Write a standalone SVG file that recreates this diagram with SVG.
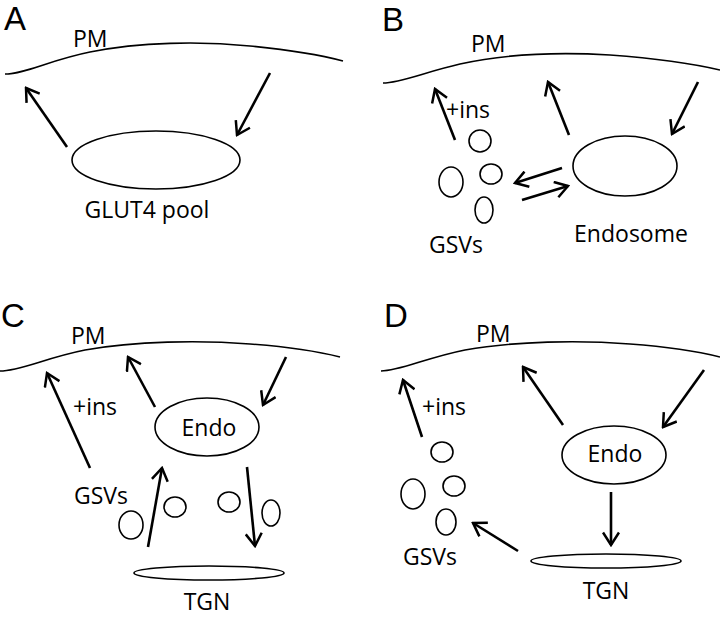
<svg xmlns="http://www.w3.org/2000/svg" width="720" height="617" viewBox="0 0 720 617">
<defs>
<marker id="ah" viewBox="0 -1 17 18" refX="15" refY="8" markerWidth="17" markerHeight="18" markerUnits="userSpaceOnUse" orient="auto">
<path d="M2.5,0 L15,8 L2.5,16" fill="none" stroke="#000" stroke-width="2.5" stroke-linejoin="miter"/>
</marker>
</defs>
<style>
.pm{fill:none;stroke:#000;stroke-width:1.6}
.org{fill:none;stroke:#000;stroke-width:1.6}
.arr{fill:none;stroke:#000;stroke-width:2.6;marker-end:url(#ah)}
text{font-family:"Open Sans","Liberation Sans",sans-serif;fill:#000}
.lbl{font-size:23px}
.pan{font-size:33px;font-family:"Liberation Sans","Open Sans",sans-serif}
</style>
<rect width="720" height="617" fill="#fff"/>

<!-- Panel A -->
<g id="panelA">
<text class="pan" x="4" y="30">A</text>
<g id="A-PM"><path class="pm" d="M5,74 C25,74 50,60 90,52 C140,42 200,41 250,46 C290,50 320,55 343,61"/><text class="lbl" x="73" y="47">PM</text></g>
<g id="A-pool"><ellipse class="org" cx="156" cy="160" rx="84" ry="29"/><text class="lbl" x="147" y="218" text-anchor="middle">GLUT4 pool</text></g>
</g>

<!-- Panel B -->
<g id="panelB">
<text class="pan" x="382" y="31">B</text>
<g id="B-PM"><path class="pm" d="M383,83 C400,83 425,72 460,64 C510,53 560,52 610,55 C650,58 690,63 720,70"/><text class="lbl" x="471" y="52">PM</text></g>
<g id="B-endo"><ellipse class="org" cx="625" cy="166" rx="52" ry="30"/><text class="lbl" x="631" y="242" text-anchor="middle">Endosome</text></g>
<g id="B-gsvs">
<ellipse class="org" cx="480" cy="141" rx="11" ry="11"/>
<ellipse class="org" cx="451" cy="182" rx="12" ry="15"/>
<ellipse class="org" cx="491" cy="174" rx="11" ry="10"/>
<ellipse class="org" cx="484" cy="210" rx="9" ry="13"/>
<text class="lbl" x="456" y="253" text-anchor="middle">GSVs</text>
</g>
<text class="lbl" x="446" y="118">+ins</text>
</g>

<!-- Panel C -->
<g id="panelC">
<text class="pan" x="1" y="327">C</text>
<g id="C-PM"><path class="pm" d="M0,371 C20,371 45,358 85,350 C135,341 200,340 250,344 C290,347 320,352 340,357"/><text class="lbl" x="71" y="344">PM</text></g>
<g id="C-endo"><ellipse class="org" cx="207" cy="427" rx="52" ry="29"/><text class="lbl" x="209" y="436" text-anchor="middle">Endo</text></g>
<g id="C-gsvs">
<ellipse class="org" cx="131" cy="525" rx="12" ry="14"/>
<ellipse class="org" cx="175" cy="507" rx="11" ry="10"/>
<ellipse class="org" cx="229" cy="502" rx="11" ry="10"/>
<ellipse class="org" cx="271" cy="513" rx="9" ry="13"/>
<text class="lbl" x="101" y="504" text-anchor="middle">GSVs</text>
</g>
<g id="C-tgn"><ellipse class="org" cx="209" cy="573" rx="75" ry="7"/><text class="lbl" x="207" y="610" text-anchor="middle">TGN</text></g>
<text class="lbl" x="73" y="415">+ins</text>
</g>

<!-- Panel D -->
<g id="panelD">
<text class="pan" x="384" y="327">D</text>
<g id="D-PM"><path class="pm" d="M381,371 C400,371 425,358 465,350 C515,341 580,340 630,344 C670,347 700,352 720,357"/><text class="lbl" x="476" y="342">PM</text></g>
<g id="D-endo"><ellipse class="org" cx="614" cy="455" rx="52" ry="29"/><text class="lbl" x="615" y="462" text-anchor="middle">Endo</text></g>
<g id="D-gsvs">
<ellipse class="org" cx="442" cy="452" rx="11" ry="10"/>
<ellipse class="org" cx="413" cy="494" rx="12" ry="15"/>
<ellipse class="org" cx="454" cy="486" rx="11" ry="10"/>
<ellipse class="org" cx="446" cy="522" rx="10" ry="13"/>
<text class="lbl" x="430" y="565" text-anchor="middle">GSVs</text>
</g>
<g id="D-tgn"><ellipse class="org" cx="606" cy="561" rx="75" ry="7"/><text class="lbl" x="606" y="599" text-anchor="middle">TGN</text></g>
<text class="lbl" x="422" y="415">+ins</text>
</g>

<g id="connectors">
<line class="arr" x1="67" y1="147" x2="26" y2="88"/>
<line class="arr" x1="270" y1="73" x2="237" y2="135"/>
<line class="arr" x1="455" y1="140" x2="435" y2="89"/>
<line class="arr" x1="569" y1="135" x2="548" y2="82"/>
<line class="arr" x1="698" y1="82" x2="672" y2="134"/>
<line class="arr" x1="562" y1="168" x2="515" y2="183"/>
<line class="arr" x1="522" y1="200" x2="568" y2="186"/>
<line class="arr" x1="90" y1="468" x2="47" y2="373"/>
<line class="arr" x1="155" y1="407" x2="128" y2="357"/>
<line class="arr" x1="286" y1="357" x2="263" y2="405"/>
<line class="arr" x1="148" y1="547" x2="162" y2="468"/>
<line class="arr" x1="247" y1="467" x2="255" y2="546"/>
<line class="arr" x1="422" y1="437" x2="403" y2="380"/>
<line class="arr" x1="563" y1="425" x2="523" y2="367"/>
<line class="arr" x1="704" y1="370" x2="663" y2="427"/>
<line class="arr" x1="611" y1="492" x2="611" y2="545"/>
<line class="arr" x1="518" y1="551" x2="473" y2="523"/>
</g>
</svg>
